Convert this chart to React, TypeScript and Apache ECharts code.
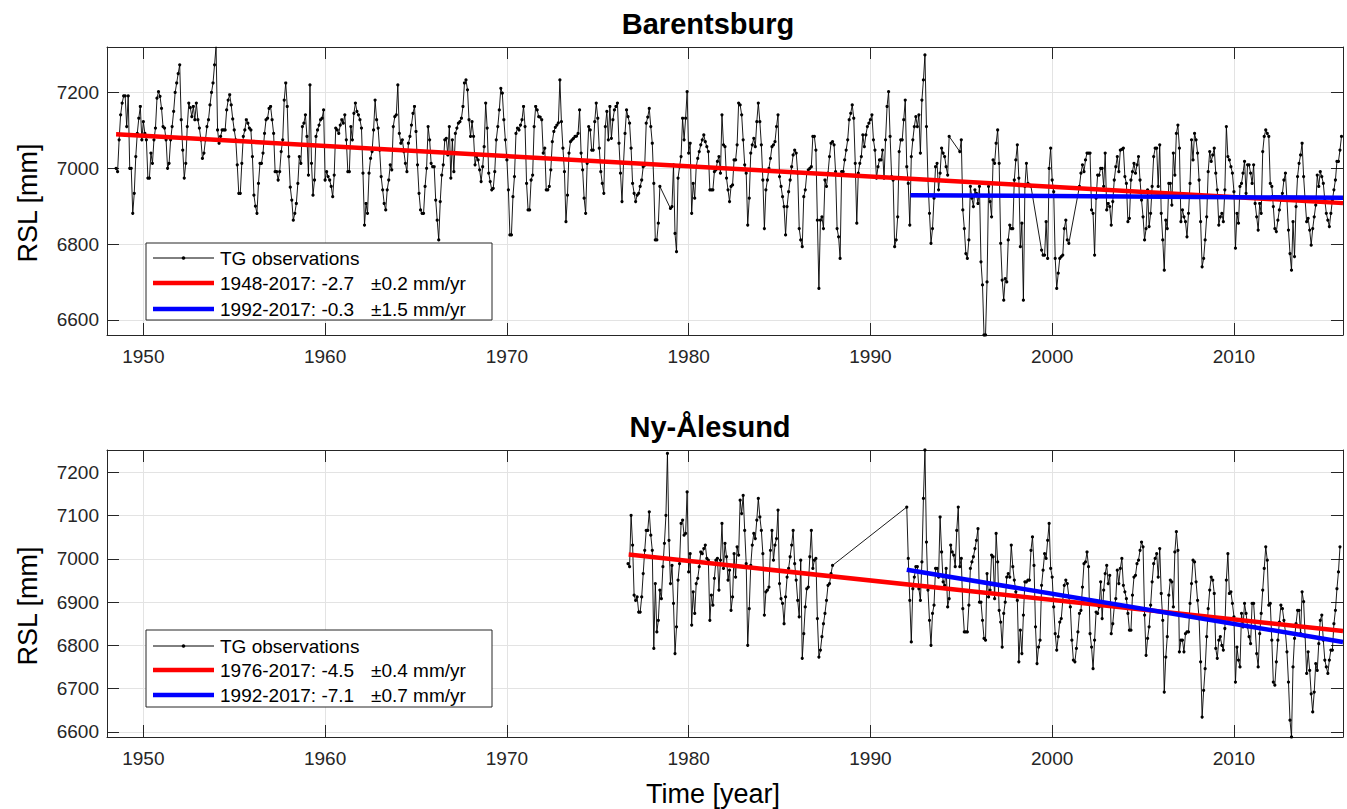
import { useEffect, useRef } from 'react';
import * as echarts from 'echarts';

// ---------- axes / ticks ----------
const xRange = [1948, 2016];
const xTickYears = [1950, 1960, 1970, 1980, 1990, 2000, 2010];
const topYRange = [6560, 7320];
const topYTicks = [6600, 6800, 7000, 7200];
const bottomYRange = [6588, 7252];
const bottomYTicks = [6600, 6700, 6800, 6900, 7000, 7100, 7200];

// ---------- Barentsburg monthly RSL [mm], first value = 1948.5, step 1 month ----------
const barentsburgStart = 1948.5;
const barentsburg1948 = [
  7000, 6991, 7075, 7141, 7172, 7191, 7191, 7110, 7191, 7000, 7000, 6881,
  6934, 7031, 7092, 7132, 7163, 7075, 7123, 7092, 7075, 6974, 6974, 7040,
  7013, 7075, 7106, 7185, 7202, 7190, 7158, 7110, 7106, 7075, 7000, 7013,
  7075, 7110, 7150, 7200, 7225, 7250, 7273, 7128, 7048, 6974, 7013, 7110,
  7172, 7160, 7136, 7163, 7128, 7172, 7128, 7106, 7075, 7026, 7040, 7075,
  7110, 7128, 7167, 7200, 7225, 7273, 7321, 7101, 7066, 7084, 7101, 7101,
  7101, 7154, 7180, 7194, 7167, 7130, 7101, 7075, 7009, 6934, 6934, 7013,
  7084, 7101, 7128, 7119, 7106, 7101, 7031, 6929, 6900, 6881, 6960, 7013,
  7013, 7040, 7092, 7128, 7132, 7158, 7163, 7128, 7092, 6991, 6991, 6969,
  6991, 7044, 7075, 7180, 7225, 7163, 7031, 6950, 6916, 6863, 6881, 6907,
  6960, 7031, 7013, 7110, 7119, 7141, 7084, 6982, 7220, 7013, 6929, 6969,
  7084, 7101,
];
const barentsburg1959 = [
  7114, 7128, 7132, 7154, 6969, 6991, 6978, 6969, 6952, 6925, 6982, 7106,
  7101, 7092, 7114, 7128, 7119, 7141, 7075, 6991, 6991, 7110, 7075, 7145,
  7172, 7150, 7141, 7128, 7106, 6987, 6850, 6907, 6881, 6987, 7026, 7044,
  7101, 7180, 7128, 7106, 7048, 6978, 6943, 6907, 6890, 6943, 6969, 7009,
  6996, 7110, 7136, 7141, 7220, 7092, 7066, 7075, 7044, 7013, 6991, 7066,
  7084, 7114, 7145, 7163, 7097, 7009, 6934, 6890, 6881, 6881, 6952, 7000,
  7110, 7075, 7013, 7004, 7004, 6916, 6863, 6811, 6912, 6982, 7009, 7075,
  7079, 7035, 7110, 6974, 7075, 6991, 7092, 7106, 7119, 7123, 7132, 7163,
  7225, 7233, 7207, 7128, 7084, 7123, 7084, 7009, 7031, 7022, 6996, 6965,
  7004, 7057, 7172, 7106, 6987, 6965, 6943, 6947, 6991, 7075, 7110, 7154,
  7211, 7198, 7128, 7075, 7022, 6943, 6824, 6824, 6925, 6978, 7092, 7106,
  7101, 7114, 7128, 7163, 7110, 6960, 6890,
];
const barentsburg1971 = [
  6890, 6969, 6982, 7110, 7163, 7154, 7136, 7135, 7128, 7040, 7053, 6943,
  6943, 6952, 6996, 7070, 7097, 7108, 7114, 7120, 7233, 7123, 7053, 6991,
  6859, 6929, 7040, 7070, 7075, 7079, 7084, 7085, 7092, 7154, 7040, 6996,
  6921, 6881, 7013, 7110, 7101, 7048, 7048, 7123, 7172, 7132, 7053, 6991,
  6960, 6934, 7110, 7150, 7075, 7163, 7079, 7128, 7154, 7163, 7172, 7066,
  6987, 6912, 7013, 7092, 7154, 7136, 7119, 7053, 6960, 6934, 6912, 6929,
  6934, 6952, 6969, 7004, 7008, 7119, 7135, 7158, 7110, 7066, 6960, 6811,
  6811, 6855, 6952, null, null, null, null, null, null, 6894, 6899, 7009,
  6828, 6780, 6974, 7004, 7031, 7132, 7075, 7132, 7202, 7040, 7066, 6881,
  6960, 6921, 7004, 7026, 7044, 7062, 7075, 7088, 7070, 7057, 7044, 6943,
  6943, 6943, 6991, 6996, 7018, 7031, 6987, 7141, 7062, 7057, 6974, 6943,
  6912, 6952, 6956, 7022, 7022, 7062, 7172,
];
const barentsburg1982 = [
  7167, 7141, 7075, 7009, 6987, 6850, 6921, 7040, 7062, 7079, 7057, 7123,
  7172, 7123, 7062, 6969, 6841, 6943, 6969, 7000, 7026, 7057, 7062, 7070,
  7110, 7141, 6978, 6952, 6925, 6899, 6824, 6899, 6938, 6969, 7004, 7035,
  7048, 7040, 6987, 6841, 6811, 6793, 6925, 6943, 6987, 6996, 7000, 7004,
  7084, 7084, 7048, 6863, 6683, 6863, 6872, 6841, 6969, 6952, 6987, 7031,
  7066, 7070, 7062, 6991, 6841, 6819, 6762, 6991, 6991, 7022, 7048, 7075,
  7128, 7145, 7167, 7132, 7013, 6855, 6987, 7013, 7031, 7088, 7057, 7088,
  7110, 7119, 7128, 7141, 7075, 7048, 6974, 7004, 7022, 7022, 7048, 6974,
  7075, 7163, 7202, 7084, 6978, 6969, 6793, 6811, 6872, 7044, 7075, 7075,
  7128, 7180, 7004, 6960, 6850, 7031, 7075, 7110, 7136, 7110, 7141, 7040,
  7180, 7233, 7299, 7110, 6969, 6881, 6802, 6841, 6921, 7004, 7013, 6943,
  6987, 7053, 7040, 7031, 7004, 6982,
];
const barentsburg1994 = [
  7084, null, null, null, null, null, null, 7044, 7075, 6890, 6841, 6775,
  6762, 6811, 6952, 6921, 6899, 6943, 6934, 6907, 6952, 6753, 6692, 6560,
  6560, 6700, 6952, 6912, 6872, 7022, 7013, 7066, 7101, 7013, 6802, 6705,
  6652, 6709, 6700, 6811, 6850, 6841, 6841, 6969, 7022, 7062, 6974, 6793,
  6855, 6652, 6952, 7013, 6960, 6956, 6952, null, null, null, null, null,
  null, 6784, 6771, 6771, 6859, 6762, 7000, 7053, 6969, 6938, 6762, 6683,
  6723, 6762, 6767, 6771, 6841, 6863, 6811, 6802, null, null, null, null,
  null, null, 6952, 6987, 7009, 6991, 7022, 7040, 7040, 7040, 6890, 6881,
  6771, 6921, 6982, 6982, 7000, 7000, 6952, 7040, 6890, 6907, 6899, 6850,
  6912, 6969, 7004, 7031, 6991, 7048, 7050, 7053, 6978, 6960, 6859, 6868,
  6969, 6991, 7013, 6987, 7009, 7031, 6969, 6916, 6872, 6811, 6841, 6943,
];
const barentsburg2005 = [
  6846, 6881, 6952, 7031, 7053, 7053, 6952, 7062, 6881, 6811, 6731, 6863,
  6841, 6960, 6960, 6903, 7040, 6982, 7092, 7114, 7053, 6859, 6890, 6872,
  6859, 6819, 6881, 6960, 7075, 7022, 7092, 7075, 7040, 6969, 6859, 6740,
  6762, 6811, 6872, 6991, 7044, 7018, 7035, 7053, 6987, 6943, 6850, 6872,
  6881, 6859, 6943, 7110, 7031, 7022, 7004, 6987, 6938, 6789, 6881, 6855,
  6952, 6960, 6987, 7018, 6934, 7009, 7009, 6987, 6960, 7009, 6907, 6872,
  6837, 6907, 6881, 7044, 7084, 7101, 7092, 7084, 6960, 6952, 6899, 6841,
  6833, 6863, 6890, 6916, 6934, 6969, 6987, 6916, 6837, 6775, 6731, 6859,
  6767, 6899, 6978, 7013, 7035, 7066, 6978, 6916, 6859, 6868, 6837, 6797,
  6841, 6872, 6903, 6982, 6952, 6991, 6978, 6960, 6916, 6881, 6863, 6846,
  6881, 6916, 6943, 6969, 7018, 7018, 7048, 7084,
];

// ---------- Ny-Ålesund monthly RSL [mm], first value = 1976.667, step 1 month ----------
const nyAlesundStart = 1976 + 8 / 12;
const nyAlesund1976 = [
  6989, 6982, 7101, 7032, 6916, 6904, 6912, 6877, 6877, 6912, 6966, 7020,
  7066, 7066, 7109, 7055, 7020, 6793, 6943, 6831, 6858, 6928, 6908, 6982,
  7036, 7101, 7244, 7043, 6943, 6985, 6897, 6781, 6843, 6951, 6989, 7082,
  7090, 7055, 7059, 7155, 6970, 7012, 6847, 6924, 6874, 6943, 6955, 6982,
  7016, 7012, 7024, 7032, 7001, 6997, 6858, 6916, 6893, 6955, 6997, 7001,
  6928, 6997, 7082, 6978, 7036, 7005, 6951, 6974, 6881, 6912, 7012, 6958,
  7028, 7009, 7136, 7105, 7147, 7066, 6989, 6800, 6885, 6985, 7032, 7059,
  7047, 7090, 7140, 7097, 7066, 7012, 6870, 6924, 6928, 6935, 7020, 7066,
  6997, 7032, 7047, 7113, 6943, 6908, 6897, 6850, 6912, 6958, 6978, 7005,
  7032, 7066, 6989, 6951, 6904, 6866, 6997, 6770, 6827, 6889, 6931, 6935,
  7005, 7066, 6978, 6997, 7001, 6862, 6773, 6789, 6820, 6850, 6874, 6904,
  6939, 6943, 6966, 6985,
];
const nyAlesundGapMonths = 48; // 1988.0 - 1991.9 : no observations
const nyAlesund1992 = [
  7120, 7001, 6904, 6808, 6931, 6958, 6982, 6982, 6931, 6904, 6993, 7140,
  7252, 7039, 6928, 6858, 6800, 6874, 6893, 6978, 6978, 6958, 7097, 7016,
  6947, 6939, 6978, 6889, 6908, 7032, 7016, 7009, 6982, 7066, 7120, 6982,
  7001, 6885, 6831, 6831, 6831, 6893, 6978, 6993, 7005, 7024, 7043, 7070,
  6900, 6900, 6858, 6816, 6812, 6966, 6912, 6928, 7009, 7005, 6908, 7059,
  6993, 6881, 6854, 6796, 6874, 6900, 6958, 6966, 6958, 7032, 6982, 6951,
  6924, 6904, 6762, 6835, 6781, 6870, 6947, 6947, 6951, 6951, 7020, 7051,
  6985, 6843, 6758, 6796, 6812, 6939, 6974, 7012, 7001, 7043, 7082, 6978,
  6958, 6889, 6827, 6789, 6820, 6854, 6862, 6904, 6939, 6951, 6943, 6912,
  6889, 6812, 6766, 6762, 6793, 6831, 6874, 6881, 6935, 6989, 6993, 7016,
  6982, 6827, 6796, 6746, 6812, 6877, 6874, 6889, 6947, 6862, 6928, 6966,
  6985, 6943, 6962, 6827, 6850, 6889, 6908, 6974, 6943, 6978, 7001, 6939,
  6924, 6908, 6874, 6835, 6835, 6916, 6958, 6962, 6989, 6997, 7020, 7039,
  7028, 6870, 6777, 6816, 6843, 6893, 6947, 6989, 7001, 7012, 6958, 7024,
  6920, 6858, 6692, 6773, 6820, 6916, 6951, 6947, 6889, 7016, 7063, 7020,
  6785, 6812, 6812, 6785, 6827, 6831, 6831, 6897, 6943, 6997, 6993, 6947,
  6904, 6862, 6762, 6634, 6696, 6746, 6820, 6885, 6928, 6958, 6951, 6920,
  6793, 6770, 6812, 6820, 6800, 6789, 6839, 6951, 7012, 6920, 6924, 6897,
  6866, 6715, 6796, 6766, 6750, 6874, 6843, 6897, 6874, 6843, 6820, 6804,
  6897, 6897, 6843, 6781, 6750, 6827, 6874, 6928, 6978, 7028, 6997, 6893,
  6897, 6812, 6715, 6708, 6762, 6812, 6854, 6893, 6885, 6858, 6831, 6785,
  6715, 6627, 6588, 6750, 6816, 6850, 6881, 6881, 6827, 6924, 6901, 6820,
  6735, 6785, 6742, 6688, 6646, 6692, 6758, 6742, 6804, 6858, 6870, 6812,
  6766, 6750, 6735, 6766, 6789, 6789, 6850, 6881, 6931, 6970, 7028,
];

// ---------- linear trends: [start year, end year], [start value, end value] ----------
const barLongYears = [1948.5, 2016];
const barLongValues = [7090, 6908];
const barShortYears = [1992.2, 2016];
const barShortValues = [6929, 6922];
const nyLongYears = [1976.7, 2016];
const nyLongValues = [7010, 6833];
const nyShortYears = [1992.0, 2016];
const nyShortValues = [6975, 6808];

// ---------- legend texts ----------
const barLegend = ['TG observations', '1948-2017: -2.7', '±0.2 mm/yr', '1992-2017: -0.3', '±1.5 mm/yr'];
const nyLegend = ['TG observations', '1976-2017: -4.5', '±0.4 mm/yr', '1992-2017: -7.1', '±0.7 mm/yr'];

const FONT = '"Liberation Sans", Arial, Helvetica, sans-serif';
const FRAME = '#262626';
const GRID = '#e3e3e3';

function toPoints(start: number, values: (number | null)[]) {
  const pts: number[][] = [];
  values.forEach((v, i) => {
    if (v !== null) pts.push([start + i / 12, v]);
  });
  return pts;
}

function trend(years: number[], values: number[]) {
  return years.map((y, i) => [y, values[i]]);
}

const plainNumber = (v: number) => String(Math.round(v));

function xAxesFor(gridIndex: number) {
  const common = {
    type: 'value',
    gridIndex,
    min: xRange[0],
    max: xRange[1],
    axisLine: { show: true, onZero: false, lineStyle: { color: FRAME, width: 1 } },
    axisTick: { show: true, inside: true, length: 12, customValues: xTickYears, lineStyle: { color: FRAME, width: 1 } },
  };
  return [
    {
      ...common,
      position: 'bottom',
      axisLabel: { show: true, customValues: xTickYears, formatter: plainNumber, fontSize: 19, color: FRAME, fontFamily: FONT, margin: 12 },
      splitLine: { show: true, lineStyle: { color: GRID, width: 1 } },
    },
    {
      ...common,
      position: 'top',
      axisLabel: { show: false },
      splitLine: { show: false },
    },
  ];
}

function yAxesFor(gridIndex: number, range: number[], ticks: number[]) {
  const common = {
    type: 'value',
    gridIndex,
    min: range[0],
    max: range[1],
    axisLine: { show: true, onZero: false, lineStyle: { color: FRAME, width: 1 } },
    axisTick: { show: true, inside: true, length: 12, customValues: ticks, lineStyle: { color: FRAME, width: 1 } },
  };
  return [
    {
      ...common,
      position: 'left',
      axisLabel: { show: true, customValues: ticks, formatter: plainNumber, fontSize: 19, color: FRAME, fontFamily: FONT, margin: 8 },
      splitLine: { show: true, lineStyle: { color: GRID, width: 1 } },
    },
    {
      ...common,
      position: 'right',
      axisLabel: { show: false },
      splitLine: { show: false },
    },
  ];
}

function legendGraphics(top: number, rowYs: number[], texts: string[]) {
  const x0 = 146;
  const w = 346;
  const h = 77;
  const lx1 = 153;
  const lx2 = 214;
  const tx = 220;
  const tx2 = 371;
  const ts = { fontSize: 19, fontFamily: FONT, fill: '#000', verticalAlign: 'middle', align: 'left' };
  return [
    { type: 'rect', z: 100, shape: { x: x0, y: top, width: w, height: h }, style: { fill: '#fff', stroke: FRAME, lineWidth: 1 } },
    { type: 'line', z: 101, shape: { x1: lx1, y1: rowYs[0], x2: lx2, y2: rowYs[0] }, style: { stroke: '#000', lineWidth: 1 } },
    { type: 'circle', z: 101, shape: { cx: (lx1 + lx2) / 2, cy: rowYs[0], r: 1.8 }, style: { fill: '#000' } },
    { type: 'text', z: 101, x: tx, y: rowYs[0], style: { ...ts, text: texts[0] } },
    { type: 'line', z: 101, shape: { x1: lx1, y1: rowYs[1], x2: lx2, y2: rowYs[1] }, style: { stroke: '#ff0000', lineWidth: 4.5 } },
    { type: 'text', z: 101, x: tx, y: rowYs[1], style: { ...ts, text: texts[1] } },
    { type: 'text', z: 101, x: tx2, y: rowYs[1], style: { ...ts, text: texts[2] } },
    { type: 'line', z: 101, shape: { x1: lx1, y1: rowYs[2], x2: lx2, y2: rowYs[2] }, style: { stroke: '#0000ff', lineWidth: 4.5 } },
    { type: 'text', z: 101, x: tx, y: rowYs[2], style: { ...ts, text: texts[3] } },
    { type: 'text', z: 101, x: tx2, y: rowYs[2], style: { ...ts, text: texts[4] } },
  ];
}

function obsSeries(xi: number, yi: number, data: number[][]) {
  return {
    type: 'line',
    xAxisIndex: xi,
    yAxisIndex: yi,
    data,
    symbol: 'circle',
    symbolSize: 3.2,
    showSymbol: true,
    itemStyle: { color: '#000', borderWidth: 0 },
    lineStyle: { color: '#000', width: 0.9 },
    z: 2,
    silent: true,
    emphasis: { disabled: true },
  };
}

function trendSeries(xi: number, yi: number, data: number[][], color: string) {
  return {
    type: 'line',
    xAxisIndex: xi,
    yAxisIndex: yi,
    data,
    symbol: 'none',
    lineStyle: { color, width: 4.5 },
    z: 5,
    silent: true,
    emphasis: { disabled: true },
  };
}

function buildOption() {
  const barData = toPoints(barentsburgStart, [
    ...barentsburg1948,
    ...barentsburg1959,
    ...barentsburg1971,
    ...barentsburg1982,
    ...barentsburg1994,
    ...barentsburg2005,
  ]);
  const nyData = toPoints(nyAlesundStart, [
    ...nyAlesund1976,
    ...new Array(nyAlesundGapMonths).fill(null),
    ...nyAlesund1992,
  ]);
  const titleStyle = { fontSize: 29, fontWeight: 'bold', fontFamily: FONT, fill: '#000', align: 'center', verticalAlign: 'middle' };
  const labelStyle = { fontSize: 27, fontFamily: FONT, fill: '#000', align: 'center', verticalAlign: 'middle' };
  return {
    animation: false,
    backgroundColor: '#ffffff',
    grid: [
      { left: 107, top: 47, width: 1236, height: 288, containLabel: false },
      { left: 107, top: 450, width: 1236, height: 287, containLabel: false },
    ],
    xAxis: [...xAxesFor(0), ...xAxesFor(1)],
    yAxis: [...yAxesFor(0, topYRange, topYTicks), ...yAxesFor(1, bottomYRange, bottomYTicks)],
    series: [
      obsSeries(0, 0, barData),
      trendSeries(0, 0, trend(barLongYears, barLongValues), '#ff0000'),
      trendSeries(0, 0, trend(barShortYears, barShortValues), '#0000ff'),
      obsSeries(2, 2, nyData),
      trendSeries(2, 2, trend(nyLongYears, nyLongValues), '#ff0000'),
      trendSeries(2, 2, trend(nyShortYears, nyShortValues), '#0000ff'),
    ],
    graphic: [
      { type: 'text', x: 708, y: 24, style: { ...titleStyle, text: 'Barentsburg' } },
      { type: 'text', x: 710, y: 427, style: { ...titleStyle, text: 'Ny-Ålesund' } },
      { type: 'text', x: 28, y: 203, rotation: Math.PI / 2, style: { ...labelStyle, text: 'RSL [mm]' } },
      { type: 'text', x: 28, y: 606, rotation: Math.PI / 2, style: { ...labelStyle, text: 'RSL [mm]' } },
      { type: 'text', x: 713, y: 794, style: { ...labelStyle, text: 'Time [year]' } },
      ...legendGraphics(243, [258, 283, 309], barLegend),
      ...legendGraphics(630, [646, 670, 695], nyLegend),
    ],
  };
}

export default function App() {
  const ref = useRef<HTMLDivElement>(null);
  useEffect(() => {
    if (!ref.current) return;
    const chart = echarts.init(ref.current, undefined, { renderer: 'svg' });
    chart.setOption(buildOption() as any);
    return () => chart.dispose();
  }, []);
  return (
    <div
      ref={ref}
      style={{ position: 'fixed', left: 0, top: 0, width: 1347, height: 809, background: '#ffffff' }}
    />
  );
}
